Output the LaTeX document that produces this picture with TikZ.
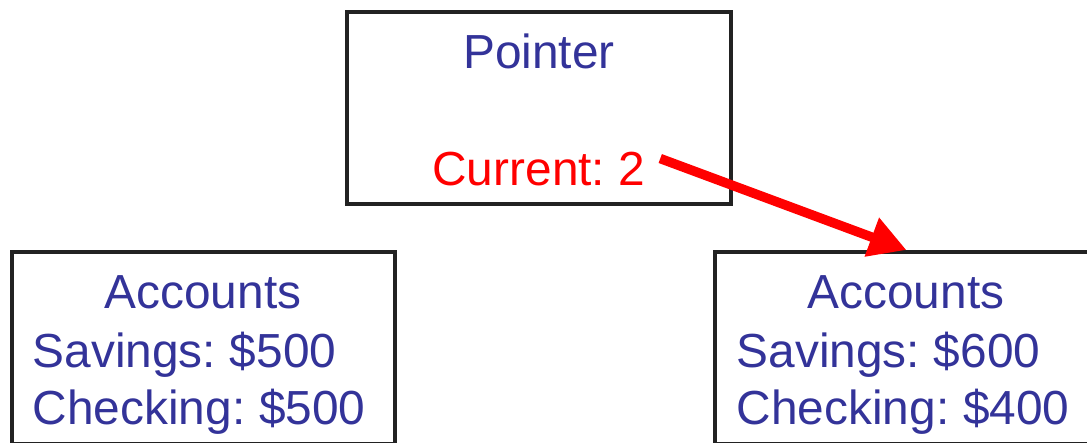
\documentclass[tikz,border=0pt]{standalone}
\usepackage{fontspec}
\setmainfont[WordSpace=0.7]{Liberation Sans}
\usepackage{xcolor}
\usetikzlibrary{arrows.meta}
\definecolor{ink}{HTML}{333399}
\definecolor{hot}{HTML}{FF0000}
\definecolor{edge}{HTML}{222222}

\begin{document}
\begin{tikzpicture}[x=0.01cm, y=-0.01cm,
    every node/.style={font=\fontsize{13.6}{16.5}\selectfont, inner sep=0pt},
    box/.style={draw=edge, line width=1.1pt, minimum width=3.83cm, minimum height=1.92cm},
    lbl/.style={text=ink, anchor=base},
    row/.style={text=ink, anchor=base west},
    arrow/.style={-{Triangle[length=0.37cm, width=0.39cm]}, line width=2.7pt, color=hot}
]
\useasboundingbox (0,0) rectangle (1087,442);
\node[box, minimum width=3.84cm] (ptr) at (539,108) {};
\node[box] (lacc) at (203.5,348) {};
\node[box] (racc) at (906.5,348) {};
\node[lbl] (ptitle) at (539,68) {Pointer};
\node[lbl, text=hot] (cur) at (539,185) {Current: 2};
\node[lbl] (ltitle) at (203,308) {Accounts};
\node[row] (lsav) at (32,367) {Savings: \$500};
\node[row] (lchk) at (32,424) {Checking: \$500};
\node[lbl] (rtitle) at (906,308) {Accounts};
\node[row] (rsav) at (736,367) {Savings: \$600};
\node[row] (rchk) at (736,424) {Checking: \$400};
\draw[arrow] ([shift={(14,-10)}]cur.east) -- (racc.north);
\end{tikzpicture}
\end{document}
